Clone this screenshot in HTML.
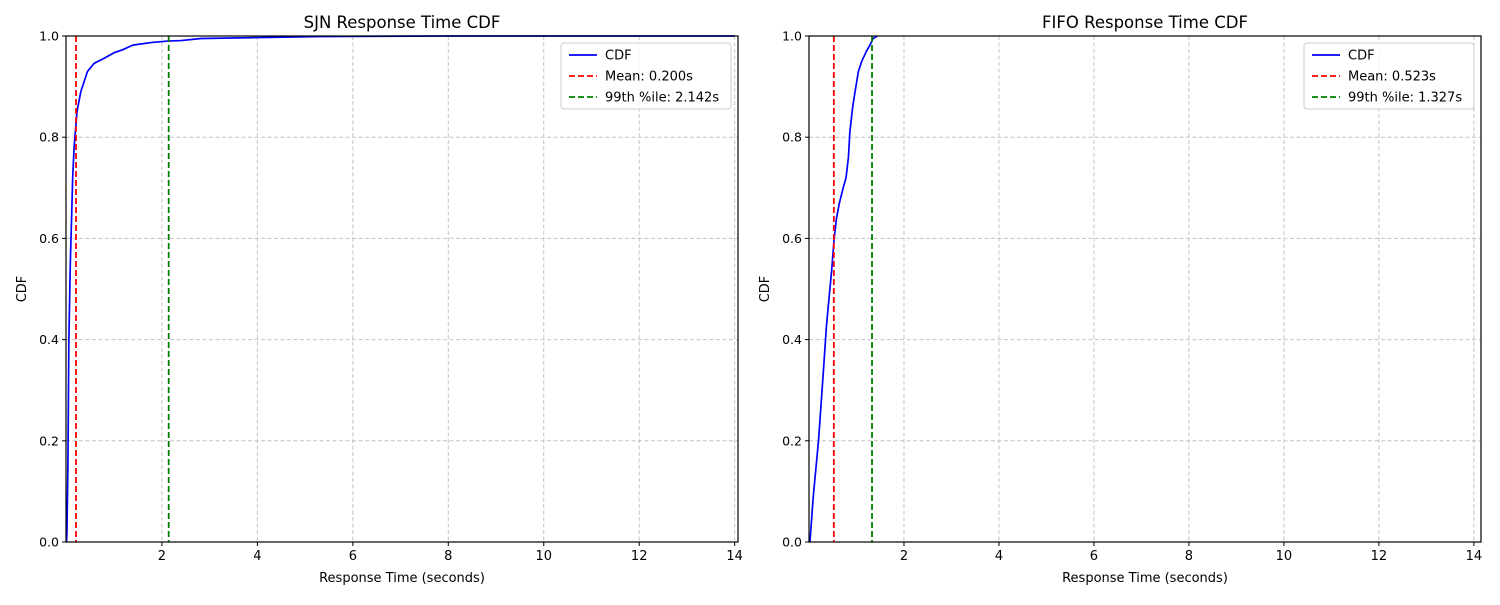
<!DOCTYPE html>
<html><head><meta charset="utf-8"><style>
body{margin:0;background:#fff;width:1500px;height:600px;overflow:hidden}
svg{font-family:"DejaVu Sans","Liberation Sans",sans-serif}
</style></head><body>
<svg id="chart" width="1500" height="600" xmlns="http://www.w3.org/2000/svg"></svg>
<script>
const sjnX=[0.0,0.01,0.03,0.05,0.08,0.11,0.13,0.16,0.22,0.30,0.44,0.58,0.79,1.0,1.18,1.39,1.77,2.12,2.40,2.82,4.07,5.33,8.0,14.0];
const sjnY=[0.0,0.02,0.15,0.40,0.55,0.65,0.72,0.78,0.85,0.89,0.93,0.946,0.956,0.967,0.973,0.982,0.987,0.990,0.991,0.995,0.997,0.999,1.0,1.0];
const fifoX=[0.02,0.09,0.20,0.29,0.37,0.48,0.53,0.58,0.64,0.72,0.78,0.83,0.86,0.92,0.97,1.04,1.11,1.21,1.30,1.35,1.44];
const fifoY=[0.0,0.09,0.20,0.32,0.43,0.54,0.60,0.64,0.67,0.70,0.72,0.76,0.81,0.86,0.89,0.93,0.95,0.97,0.985,0.995,1.0];
const xTicks=[2,4,6,8,10,12,14];
const yTicks=[0.0,0.2,0.4,0.6,0.8,1.0];
const sjnMean=0.200, sjnP99=2.142, fifoMean=0.523, fifoP99=1.327;
const NS="http://www.w3.org/2000/svg";
const svg=document.getElementById('chart');
function mk(tag,attrs,parent,text){const e=document.createElementNS(NS,tag);for(const k in attrs)e.setAttribute(k,attrs[k]);if(text!==undefined)e.textContent=text;(parent||svg).appendChild(e);return e;}
function panel(cfg){
  const g=mk('g',{});
  
  
  const L=cfg.left,R=cfg.right,T=36,B=542;
  const sx=v=>L+(v-cfg.xmin)/(cfg.xmax-cfg.xmin)*(R-L);
  const sy=v=>B-v*(B-T);
  xTicks.forEach(t=>{
    const x=sx(t);
    const gl=mk('line',{x1:x,x2:x,y1:T,y2:B,stroke:'#c4c4c4','stroke-width':1,'stroke-dasharray':'4,2.5'},g);
    
    mk('line',{x1:x,x2:x,y1:B,y2:B+4,stroke:'#000','stroke-width':1},g);
    const tx=mk('text',{x:x,y:B+18,'font-size':13,'text-anchor':'middle'},g,String(t));
    
  });
  yTicks.forEach(t=>{
    const y=sy(t);
    if(t>0&&t<1){const gl=mk('line',{x1:L,x2:R,y1:y,y2:y,stroke:'#c4c4c4','stroke-width':1,'stroke-dasharray':'4,2.5'},g);
    }
    mk('line',{x1:L-4,x2:L,y1:y,y2:y,stroke:'#000','stroke-width':1},g);
    const tx=mk('text',{x:L-7,y:y+4.5,'font-size':12.5,'text-anchor':'end'},g,t.toFixed(1));
    
  });
  const cp=mk('clipPath',{id:cfg.name+'-clip'},g);mk('rect',{x:L,y:T-1,width:R-L,height:B-T+2},cp);
  const pts=cfg.xs.map((v,i)=>sx(v).toFixed(2)+','+sy(cfg.ys[i]).toFixed(2)).join(' ');
  const cl=mk('polyline',{points:pts,fill:'none',stroke:'#0000ff','stroke-width':1.7,'clip-path':'url(#'+cfg.name+'-clip)'},g);
  
  const ml=mk('line',{x1:sx(cfg.mean),x2:sx(cfg.mean),y1:T,y2:B,stroke:'#ff0000','stroke-width':1.8,'stroke-dasharray':'6,3'},g);
  
  const pl=mk('line',{x1:sx(cfg.p99),x2:sx(cfg.p99),y1:T,y2:B,stroke:'#008000','stroke-width':1.8,'stroke-dasharray':'6,3'},g);
  
  const fr=mk('rect',{x:L,y:T,width:R-L,height:B-T,fill:'none',stroke:'#000','stroke-width':1.2},g);
  
  const ti=mk('text',{x:(L+R)/2,y:T-8,'font-size':16.5,'text-anchor':'middle'},g,cfg.title);
  
  const xl=mk('text',{x:(L+R)/2,y:582,'font-size':13,'text-anchor':'middle'},g,'Response Time (seconds)');
  
  const yl=mk('text',{x:0,y:0,'font-size':13,'text-anchor':'middle',transform:'translate('+(L-40)+','+((T+B)/2)+') rotate(-90)'},g,'CDF');
  
  const lg=mk('g',{},g);
  
  const lx=R-177,ly=43;
  mk('rect',{x:lx,y:ly,width:170,height:66,rx:3,fill:'#fff','fill-opacity':0.8,stroke:'#ccc','stroke-width':1},lg);
  const ents=[['CDF','#0000ff',null],['Mean: '+cfg.mean.toFixed(3)+'s','#ff0000','6,3'],['99th %ile: '+cfg.p99.toFixed(3)+'s','#008000','6,3']];
  ents.forEach((e,i)=>{
    const y=ly+12+i*21;
    const a={x1:lx+8,x2:lx+36,y1:y,y2:y,stroke:e[1],'stroke-width':1.7};if(e[2])a['stroke-dasharray']=e[2];
    mk('line',a,lg);
    const t=mk('text',{x:lx+44,y:y+4.5,'font-size':13},lg,e[0]);
    
  });
}
panel({name:'sjn-panel',title:'SJN Response Time CDF',left:66,right:738,xmin:-0.01,xmax:14.07,xs:sjnX,ys:sjnY,mean:sjnMean,p99:sjnP99});
panel({name:'fifo-panel',title:'FIFO Response Time CDF',left:809,right:1481,xmin:0.0,xmax:14.15,xs:fifoX,ys:fifoY,mean:fifoMean,p99:fifoP99});
</script>
</body></html>
